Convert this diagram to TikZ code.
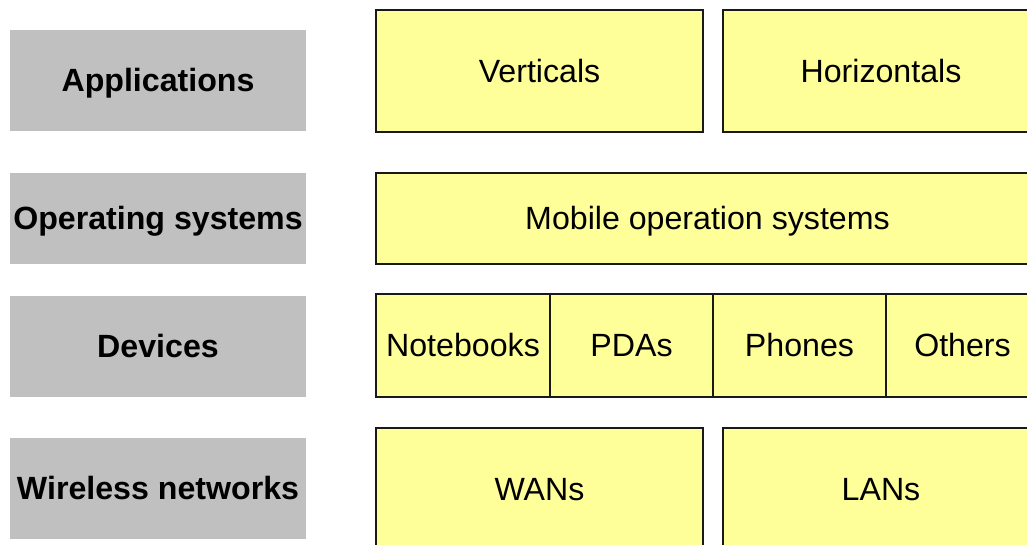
\documentclass[tikz,border=0pt]{standalone}
\usepackage{fontspec}
\setmainfont{Liberation Sans}
\definecolor{layergray}{HTML}{C0C0C0}
\definecolor{partyellow}{HTML}{FFFF99}
\begin{document}
\begin{tikzpicture}[x=0.02cm, y=-0.02cm,
	every node/.style={inner sep=0pt, text height=16.5pt, text depth=3.7pt, font=\fontsize{18.3}{22}\selectfont},
	layer/.style={fill=layergray, minimum width=5.92cm, font=\fontsize{18.3}{22}\selectfont\bfseries},
	part/.style={fill=partyellow, draw=black!90, line width=0.8pt}]
		\useasboundingbox (0,0) rectangle (1027,544);
		\clip (0,0) rectangle (1027,544);
		
		% layer names
		\node[layer, minimum height=2.02cm] at (158,80.5) (apps) {Applications};
		\node[layer, minimum height=1.82cm] at (158,218.5) (os) {Operating systems};
		\node[layer, minimum height=2.02cm] at (158,346.5) (dev) {Devices};
		\node[layer, minimum height=2.02cm] at (158,488.5) (net) {Wireless networks};
		
		% applications
		\node[part, minimum width=6.54cm, minimum height=2.44cm] at (539.5,71) (vert) {Verticals};
		\node[part, minimum width=6.32cm, minimum height=2.44cm] at (881,71) (horiz) {Horizontals};
		
		% operating systems
		\node[part, minimum width=13.26cm, minimum height=1.82cm] at (707.5,218.5) (mos) {Mobile operation systems};
		
		% devices
		\node[part, minimum width=3.48cm, minimum height=2.06cm] at (463,345.5) (nb) {Notebooks};
		\node[part, minimum width=3.26cm, minimum height=2.06cm] at (631.5,345.5) (pda) {PDAs};
		\node[part, minimum width=3.46cm, minimum height=2.06cm] at (799.5,345.5) (phone) {Phones};
		\node[part, minimum width=3.06cm, minimum height=2.06cm] at (962.5,345.5) (other) {Others};
		
		% networks
		\node[part, minimum width=6.54cm, minimum height=2.44cm] at (539.5,489) (wan) {WANs};
		\node[part, minimum width=6.32cm, minimum height=2.44cm] at (881,489) (lan) {LANs};
\end{tikzpicture}
\end{document}
